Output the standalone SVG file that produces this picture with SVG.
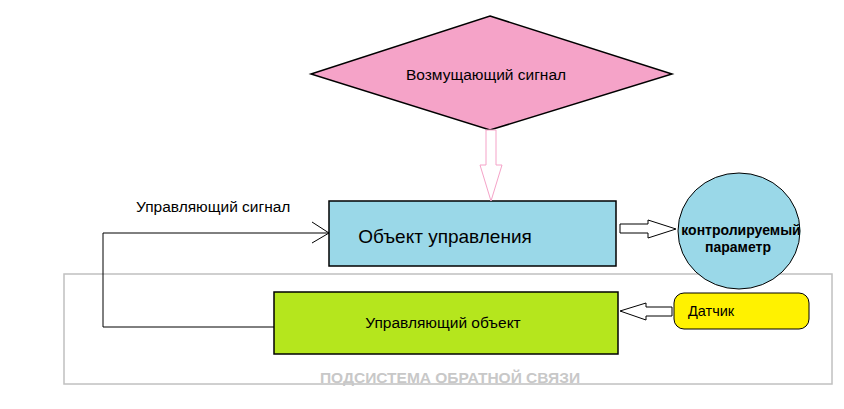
<svg xmlns="http://www.w3.org/2000/svg" width="844" height="409" viewBox="0 0 844 409">
<style>
text{font-family:"Liberation Sans",Arial,sans-serif;fill:#000}
.b{stroke:#000;stroke-width:1.5}
.h{fill:#fff;stroke:#000;stroke-width:1}
</style>
<rect width="844" height="409" fill="#fff"/>
<g id="subsystem"><rect x="64" y="274" width="768" height="110" fill="none" stroke="#c0c0c0" stroke-width="1.5"/>
<text x="450" y="383" text-anchor="middle" font-size="15.5" font-weight="bold" style="fill:#c8c8c8">ПОДСИСТЕМА ОБРАТНОЙ СВЯЗИ</text></g>
<g id="disturbance"><polygon points="490,16 672,74 490,130 311,74" fill="#F5A3C8" class="b" stroke-width="1"/>
<text x="486" y="80" text-anchor="middle" font-size="15.5">Возмущающий сигнал</text></g>
<g id="object"><rect x="329" y="201" width="287" height="65" fill="#9AD8E8" class="b"/>
<text x="445" y="243" text-anchor="middle" font-size="19">Объект управления</text></g>
<g id="param"><ellipse cx="739" cy="231" rx="61" ry="58" fill="#9AD8E8" stroke="#000"/>
<text x="741" y="235" text-anchor="middle" font-size="14" font-weight="bold">контролируемый</text>
<text x="738" y="252" text-anchor="middle" font-size="14" font-weight="bold">параметр</text></g>
<g id="controller"><rect x="274" y="292" width="344" height="62" fill="#B5E61D" class="b"/>
<text x="443" y="328" text-anchor="middle" font-size="15.5">Управляющий объект</text></g>
<g id="sensor"><rect x="674" y="293" width="135" height="36" rx="10" fill="#FFF200" stroke="#000"/>
<text x="688" y="316" font-size="14.5">Датчик</text></g>
<g id="connectors">
<polygon points="486,130 496,130 496,165 502,165 491,201 480,165 486,165" fill="#fff" stroke="#F5A3C8"/>
<polygon class="h" points="620,224 648,224 648,220 676,229 648,238 648,233 620,233"/>
<polygon class="h" points="672,307 672,316 646,316 646,320 620,311 646,303 646,307"/>
<polyline points="274,327 103,327 103,233 329,233" fill="none" stroke="#000"/>
<polyline points="312,222 329,233 312,243" fill="none" stroke="#000"/>
<text x="136" y="212" font-size="15.5">Управляющий сигнал</text>
</g>
</svg>
